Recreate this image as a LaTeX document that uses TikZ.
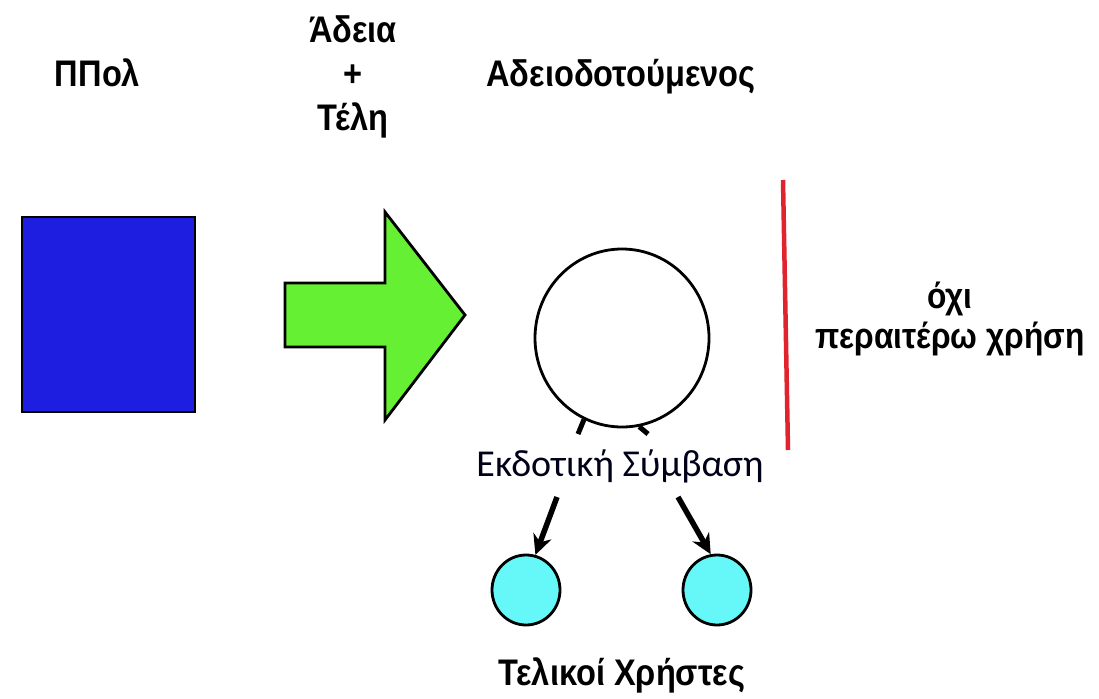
\documentclass[tikz,border=0pt]{standalone}
\usepackage{fontspec}
\setmainfont{Carlito}
\newfontfamily\headfont[FakeStretch=0.88]{Liberation Sans}
\usetikzlibrary{arrows.meta,shapes.geometric}

\definecolor{ipblue}{RGB}{30,30,225}
\definecolor{licgreen}{RGB}{102,240,51}
\definecolor{usercyan}{RGB}{102,248,248}
\definecolor{stopred}{RGB}{224,35,45}

\tikzset{
  heading/.style={font=\headfont\bfseries\fontsize{37}{43.5}\selectfont, align=center, anchor=base},
  party/.style={draw=black, line width=2.8pt, inner sep=0pt},
  user/.style={party, ellipse, fill=usercyan, minimum width=68pt, minimum height=70pt},
  usearrow/.style={line width=5.5pt, -{Stealth[length=20pt,width=19pt]}}
}

\begin{document}
\begin{tikzpicture}[x=1pt,y=-1pt]
\useasboundingbox (0,0) rectangle (1099,698);

% the parties
\node (owner) [party, rectangle, fill=ipblue, minimum width=173pt, minimum height=195pt] at (108.5,314.5) {};
\node (lic) [party, ellipse, fill=white, minimum width=174pt, minimum height=178pt] at (622,338) {};
\node (userL) [user] at (526,590) {};
\node (userR) [user] at (717,590) {};

% headings
\node (ownertxt) [heading] at (97.5,87) {ΠΠολ};
\node (feetxt) [heading] at (353,130) {Άδεια\\+\\Τέλη};
\node (lictxt) [heading] at (621,87) {Αδειοδοτούμενος};
\node (stoptxt) [heading, font=\headfont\bfseries\fontsize{36}{40}\selectfont] at (950,348) {όχι\\περαιτέρω χρήση};
\node (usertxt) [heading] at (622,685) {Τελικοί Χρήστες};
\node (contract) [font=\fontsize{38}{40}\selectfont, text=black!90!blue] at (620,466) {Εκδοτική Σύμβαση};

% licence + fees
\draw[line width=2.8pt, fill=licgreen, line join=miter]
  (285,283) -- (385,283) -- (385,212) -- (465,315) -- (385,420) -- (385,347) -- (285,347) -- cycle;

% no further use
\coordinate (stoptop) at (783,180);
\coordinate (stopbot) at (788,450);
\draw[stopred, line width=4.5pt] (stoptop) -- (stopbot);

% contract
\coordinate (stubL) at (578,434);
\coordinate (stubR) at (648,434);
\draw[line width=5pt] (lic.245) -- (stubL);
\draw[line width=5pt] (lic.281) -- (stubR);
\coordinate (fromL) at (557,497);
\coordinate (fromR) at (678,497);
\draw[usearrow] (fromL) -- (userL.75);
\draw[usearrow] (fromR) -- (userR.100);
\end{tikzpicture}
\end{document}
